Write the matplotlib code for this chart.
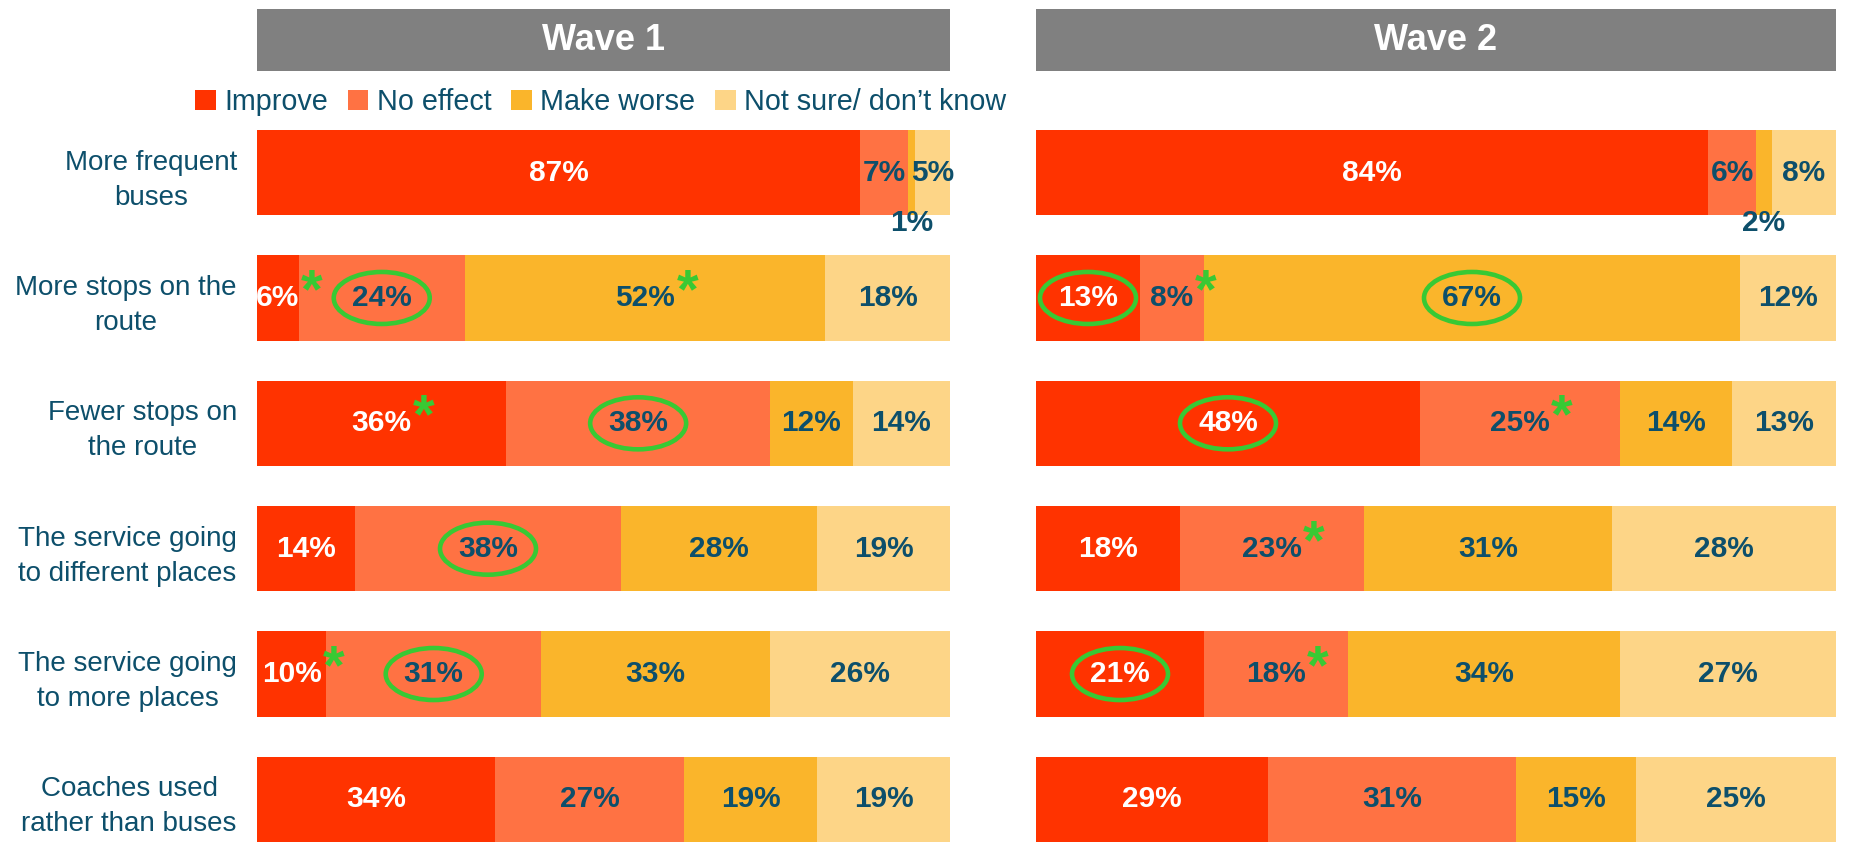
import matplotlib
matplotlib.use("Agg")
import matplotlib.pyplot as plt
from matplotlib.patches import Rectangle, Ellipse, Patch
from matplotlib.transforms import ScaledTranslation
import numpy as np

plt.rcParams['font.family'] = ['Liberation Sans', 'DejaVu Sans']

# ---------------- data ----------------
categories = ["More frequent\nbuses", "More stops on the\nroute", "Fewer stops on\nthe route",
              "The service going\nto different places", "The service going\nto more places",
              "Coaches used\nrather than buses"]
series = ["Improve", "No effect", "Make worse", "Not sure/ don\u2019t know"]
waves = ["Wave 1", "Wave 2"]

w1_improve = [87, 6, 36, 14, 10, 34]
w1_noeffect = [7, 24, 38, 38, 31, 27]
w1_worse = [1, 52, 12, 28, 33, 19]
w1_notsure = [5, 18, 14, 19, 26, 19]

w2_improve = [84, 13, 48, 18, 21, 29]
w2_noeffect = [6, 8, 25, 23, 18, 31]
w2_worse = [2, 67, 14, 31, 34, 15]
w2_notsure = [8, 12, 13, 28, 27, 25]

# (row, series) markers
w1_circled = [(1, 1), (2, 1), (3, 1), (4, 1)]
w1_starred = [(1, 0), (1, 2), (2, 0), (4, 0)]
w2_circled = [(1, 0), (1, 2), (2, 0), (4, 0)]
w2_starred = [(1, 1), (2, 1), (3, 1), (4, 1)]

# ---------------- style ----------------
colors = ["#FF3300", "#FF7243", "#FAB52B", "#FDD587"]
label_colors = ["white", "#0D4F6B", "#0D4F6B", "#0D4F6B"]
teal = "#0D4F6B"
green = "#38C934"
W, H = 1850, 842
fig = plt.figure(figsize=(W / 100, H / 100), dpi=100)

bar_h = 0.68
ax_top = 130
ax1 = fig.add_axes([257 / W, 0, (950 - 257) / W, (H - ax_top) / H])
ax2 = fig.add_axes([1036 / W, 0, (1836 - 1036) / W, (H - ax_top) / H])

data = [
    (ax1, [w1_improve, w1_noeffect, w1_worse, w1_notsure], w1_circled, w1_starred),
    (ax2, [w2_improve, w2_noeffect, w2_worse, w2_notsure], w2_circled, w2_starred),
]

fig.canvas.draw()
y = np.arange(len(categories))
for ax, vals, circled, starred in data:
    vals = np.array(vals, dtype=float)  # series x rows
    totals = vals.sum(axis=0)
    norm = vals / totals * 100
    left = np.zeros(len(categories))
    for si in range(len(series)):
        ax.barh(y, norm[si], left=left, height=bar_h, color=colors[si], label=series[si])
        for ri in range(len(categories)):
            v = vals[si, ri]
            xc = left[ri] + norm[si, ri] / 2
            if v <= 2:
                yc = ri + 0.40
            else:
                yc = ri
            t = ax.text(xc, yc, f"{int(v)}%", ha='center', va='center', fontsize=21.5,
                        fontweight='bold', color=label_colors[si] if v > 2 else teal,
                        clip_on=False, zorder=5)
            if (ri, si) in starred:
                ax.annotate('*', xy=(1.0, 1.0), xycoords=t, xytext=(1, 12),
                            textcoords='offset points', ha='left', va='top',
                            fontsize=40, fontweight='bold', color=green, zorder=6)
            if (ri, si) in circled:
                tr = fig.dpi_scale_trans + ScaledTranslation(xc, ri, ax.transData)
                e = Ellipse((0, 0), 0.96, 0.52, transform=tr, fill=False,
                            edgecolor=green, lw=3.3, zorder=6, clip_on=False)
                ax.add_artist(e)
        left += norm[si]
    ax.set_xlim(0, 100)
    ax.set_ylim(len(categories) - 1 + bar_h / 2, -bar_h / 2)
    ax.set_xticks([])
    ax.set_frame_on(False)

ax1.set_yticks(y)
ax1.set_yticklabels(categories, fontsize=20, color=teal)
ax1.tick_params(axis='y', length=0, pad=14.5)
for lbl in ax1.get_yticklabels():
    lbl.set_multialignment('center')
    lbl.set_linespacing(1.45)
ax2.set_yticks([])

# headers
for ax, name in zip([ax1, ax2], waves):
    pos = ax.get_position()
    x0, x1 = pos.x0, pos.x1
    y0, y1 = 1 - 71 / H, 1 - 9 / H
    fig.add_artist(Rectangle((x0, y0), x1 - x0, y1 - y0, transform=fig.transFigure,
                             facecolor="#808080", edgecolor='none'))
    fig.text((x0 + x1) / 2, (y0 + y1) / 2, name, ha='center', va='center',
             fontsize=26, fontweight='bold', color='white')

# legend
handles = [Patch(facecolor=c, edgecolor='none') for c in colors]
fig.legend(handles, series, loc='center left', bbox_to_anchor=(195 / W, 1 - 102 / H),
           ncol=4, frameon=False, fontsize=20.7, handlelength=0.72, handleheight=0.72,
           handletextpad=0.3, columnspacing=0.68, borderpad=0, borderaxespad=0,
           labelcolor=teal)

fig.savefig("out.png", dpi=100)
